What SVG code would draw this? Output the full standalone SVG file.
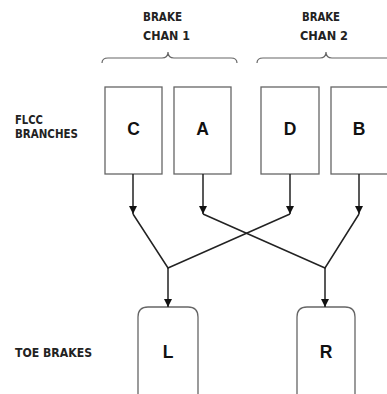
<svg xmlns="http://www.w3.org/2000/svg" width="387" height="394" viewBox="0 0 387 394">
<style>
.lbl{font-family:"Liberation Sans Narrow","DejaVu Sans Condensed","Liberation Sans",sans-serif;font-weight:bold;font-size:13px;fill:#222}
.sm{font-size:11.5px}
.let{font-family:"Liberation Sans",Arial,sans-serif;font-weight:bold;font-size:17.5px;fill:#111;text-anchor:middle}
.box{fill:#fff;stroke:#666;stroke-width:1.3}
.brace{fill:none;stroke:#666;stroke-width:1.2}
.con{fill:none;stroke:#222;stroke-width:1.5}
</style>
<defs>
<marker id="ah" viewBox="0 0 10 10" refX="10" refY="5" markerWidth="8" markerHeight="8" markerUnits="userSpaceOnUse" orient="auto">
<path d="M0,0 L10,5 L0,10 Z" fill="#111"/>
</marker>
</defs>
<rect width="387" height="394" fill="#fff"/>
<g id="labels">
<text class="lbl" x="143" y="21" textLength="39" lengthAdjust="spacingAndGlyphs">BRAKE</text>
<text class="lbl" x="143" y="40" textLength="47" lengthAdjust="spacingAndGlyphs">CHAN 1</text>
<text class="lbl" x="302" y="21" textLength="38" lengthAdjust="spacingAndGlyphs">BRAKE</text>
<text class="lbl" x="300" y="40" textLength="48" lengthAdjust="spacingAndGlyphs">CHAN 2</text>
<text class="lbl sm" x="15" y="124" textLength="28" lengthAdjust="spacingAndGlyphs">FLCC</text>
<text class="lbl sm" x="15" y="138" textLength="63" lengthAdjust="spacingAndGlyphs">BRANCHES</text>
<text class="lbl" x="15" y="357" textLength="77" lengthAdjust="spacingAndGlyphs">TOE  BRAKES</text>
</g>
<g id="braces">
<path class="brace" d="M102,63 Q102,58 108,58 H162 Q168,58 168,52 Q168,58 174,58 H231 Q237,58 237,63"/>
<path class="brace" d="M257,63 Q257,58 263,58 H320 Q326,58 326,52 Q326,58 332,58 H389 Q395,58 395,63"/>
</g>
<g id="node-C"><rect class="box" x="105" y="87" width="57" height="87"/><text class="let" x="133.5" y="135">C</text></g>
<g id="node-A"><rect class="box" x="174" y="87" width="57" height="87"/><text class="let" x="202.5" y="135">A</text></g>
<g id="node-D"><rect class="box" x="261" y="87" width="58" height="87"/><text class="let" x="290" y="135">D</text></g>
<g id="node-B"><rect class="box" x="331" y="87" width="60" height="87"/><text class="let" x="359" y="135">B</text></g>
<g id="node-L"><path class="box" d="M138,400 V317 Q138,307 148,307 H188 Q198,307 198,317 V400"/><text class="let" x="168" y="358">L</text></g>
<g id="node-R"><path class="box" d="M297,400 V317 Q297,307 307,307 H345 Q355,307 355,317 V400"/><text class="let" x="326" y="358">R</text></g>
<g id="connectors">
<path class="con" d="M133,174 V214" marker-end="url(#ah)"/>
<path class="con" d="M203,174 V214" marker-end="url(#ah)"/>
<path class="con" d="M290,174 V214" marker-end="url(#ah)"/>
<path class="con" d="M359,174 V214" marker-end="url(#ah)"/>
<path class="con" d="M133,214 L168,268 L290,214"/>
<path class="con" d="M203,214 L325,268 L359,214"/>
<path class="con" d="M168,268 V307" marker-end="url(#ah)"/>
<path class="con" d="M325,268 V307" marker-end="url(#ah)"/>
</g>
</svg>
